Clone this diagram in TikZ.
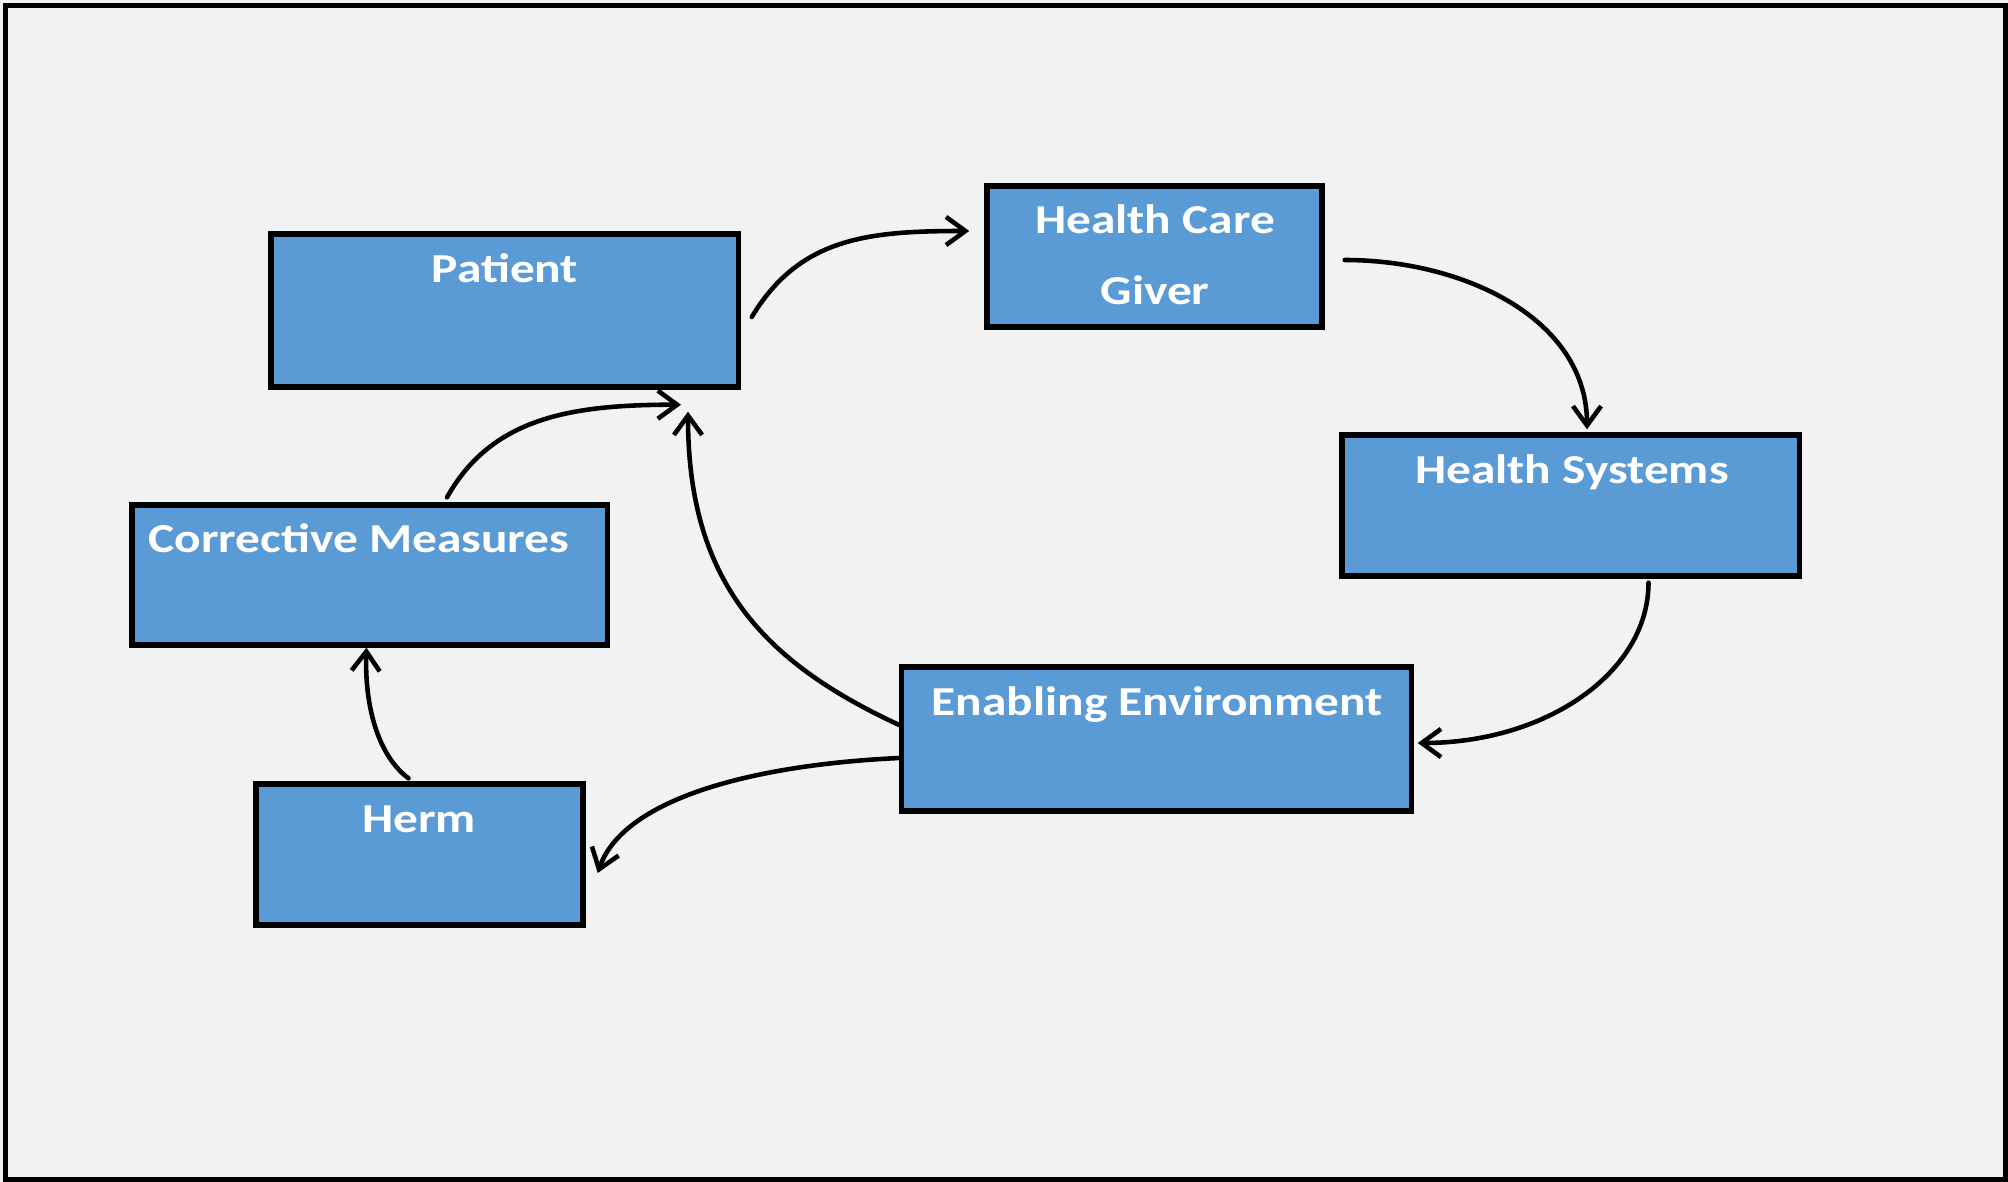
\documentclass[tikz,border=0pt]{standalone}
\usepackage{fontspec}
\setmainfont{Carlito}[FakeStretch=1.2]
\usetikzlibrary{arrows.meta}
\definecolor{boxblue}{HTML}{5B9BD5}
\definecolor{paper}{HTML}{F2F2F2}
\tikzset{
  box/.style={draw, fill=boxblue, line width=1.5pt, inner sep=0pt},
  lbl/.style={text=white, font=\fontsize{11.7pt}{20.4pt}\selectfont\bfseries, inner sep=0pt, anchor=base, align=center},
  arr/.style={line width=1.3pt, line cap=round, -{Straight Barb[length=5.5pt,width=8pt]}},
}

\begin{document}
\begin{tikzpicture}[x=0.01cm, y=-0.01cm]
  \useasboundingbox (0,0) rectangle (2008,1182);
  \fill[paper] (0,0) rectangle (2008,1182);
  \draw[line width=1.6pt] (5.5,5.5) rectangle (2005.5,1179.5);

  \node[box, minimum width=4.67cm, minimum height=1.53cm] (pat) at (504.5,310.5) {};
  \node[lbl] (patT) at (505,283) {Patient};
  \node[box, minimum width=3.35cm, minimum height=1.41cm] (hcg) at (1154.5,256.5) {};
  \node[lbl] (hcgT) at (1155,305) {Health Care\\Giver};
  \node[box, minimum width=4.57cm, minimum height=1.41cm] (hsys) at (1570.5,505.5) {};
  \node[lbl] (hsysT) at (1572,483.5) {Health Systems};
  \node[box, minimum width=5.09cm, minimum height=1.44cm] (env) at (1156.5,739) {};
  \node[lbl] (envT) at (1157,715) {Enabling Environment};
  \node[box, minimum width=4.75cm, minimum height=1.40cm] (corr) at (369.5,575) {};
  \node[lbl] (corrT) at (359,552) {Corrective Measures};
  \node[box, minimum width=3.27cm, minimum height=1.41cm] (herm) at (419.5,854.5) {};
  \node[lbl] (hermT) at (419,832) {Herm};

  \draw[arr] ([shift={(11,6.5)}]pat.east) .. controls +(48,-80) and +(-100,0) .. ([shift={(-15,-25.5)}]hcg.west);
  \draw[arr] ([shift={(20,3.5)}]hcg.east) .. controls +(120,0) and +(0,-110) .. ([shift={(16.5,-3)}]hsys.north);
  \draw[arr] ([shift={(78,4)}]hsys.south) .. controls +(0,90) and +(128,0) .. ([shift={(4,4)}]env.east);
  \draw[arr] ([shift={(0,-14)}]env.west) .. controls +(-136,-63) and +(0,170) .. ([shift={(183.5,22)}]pat.south);
  \draw[arr] ([shift={(0,19)}]env.west) .. controls +(-150,7) and +(25,-73) .. ([shift={(12,18.5)}]herm.east);
  \draw[arr] ([shift={(-11,-3)}]herm.north) .. controls +(-32,-24) and +(-2,55) .. ([shift={(-3,0)}]corr.south);
  \draw[arr] ([shift={(77.5,-5)}]corr.north) .. controls +(45,-80) and +(-110,0) .. ([shift={(176.5,15)}]pat.south);
\end{tikzpicture}
\end{document}
